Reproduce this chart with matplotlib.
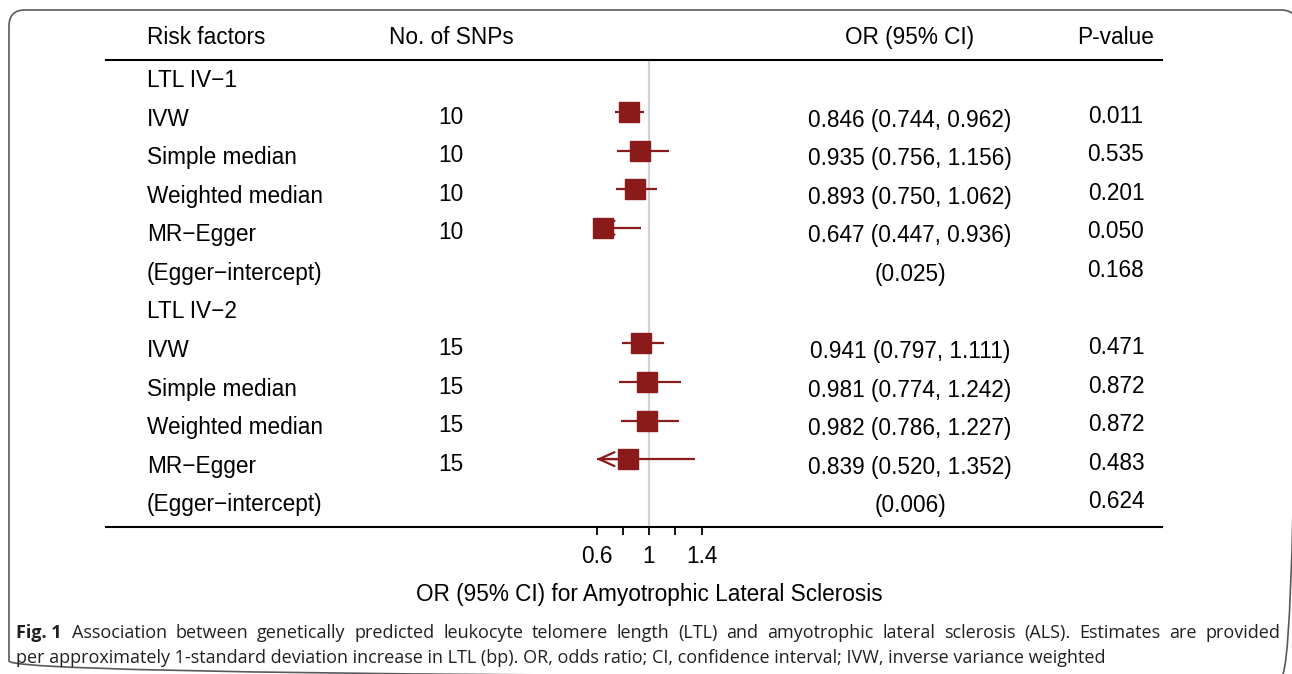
import numpy as np
import matplotlib.pyplot as plt
from matplotlib import transforms
from matplotlib.patches import FancyBboxPatch

plt.rcParams['font.family'] = ['Liberation Sans', 'DejaVu Sans']

# table data
labels = ["LTL IV\u22121", "IVW", "Simple median", "Weighted median", "MR\u2212Egger",
          "(Egger\u2212intercept)", "LTL IV\u22122", "IVW", "Simple median",
          "Weighted median", "MR\u2212Egger", "(Egger\u2212intercept)"]
snps = ["", "10", "10", "10", "10", "", "", "15", "15", "15", "15", ""]
est = [np.nan, 0.846, 0.935, 0.893, 0.647, np.nan, np.nan, 0.941, 0.981, 0.982, 0.839, np.nan]
lo = [np.nan, 0.744, 0.756, 0.750, 0.447, np.nan, np.nan, 0.797, 0.774, 0.786, 0.520, np.nan]
hi = [np.nan, 0.962, 1.156, 1.062, 0.936, np.nan, np.nan, 1.111, 1.242, 1.227, 1.352, np.nan]
intercept = {5: "(0.025)", 11: "(0.006)"}
pvals = ["", "0.011", "0.535", "0.201", "0.050", "0.168", "", "0.471", "0.872", "0.872", "0.483", "0.624"]
headers = ["Risk factors", "No. of SNPs", "OR (95% CI)", "P-value"]
xticks = [0.6, 0.8, 1.0, 1.2, 1.4]
xticklabels = ["0.6", "", "1", "", "1.4"]

red = "#8b1a1a"
W, H = 1292, 674
fig = plt.figure(figsize=(W / 100, H / 100), dpi=100)

# background: frame + caption, in pixel units
bg = fig.add_axes([0, 0, 1, 1])
bg.set_xlim(0, W)
bg.set_ylim(H, 0)
bg.axis('off')
bg.add_patch(FancyBboxPatch((9, 10), 1288, 667, boxstyle='round,pad=0,rounding_size=16',
                            fill=False, ec='#58595b', lw=1.2))

# forest / table axes
fa = fig.add_axes([106 / W, (H - 527) / H, 1056 / W, (527 - 60) / H])
fa.set_facecolor('none')
px = 131.25  # pixels per OR unit
fa.set_xlim(1 - (649 - 106) / px, 1 + (1162 - 649) / px)
fa.set_ylim(11.76, -0.35)
for s in ['left', 'right']:
    fa.spines[s].set_visible(False)
for s in ['top', 'bottom']:
    fa.spines[s].set_linewidth(1.5)
fa.set_yticks([])
fa.set_xticks(xticks)
fa.set_xticklabels(xticklabels)
fa.tick_params(axis='x', direction='out', length=6, width=1.3, labelsize=16.3, pad=7)

fa.axvline(1, color='#d3d3d3', lw=1.6, zorder=1)

xmin = 0.6
for i in range(len(labels)):
    e = est[i]
    if np.isnan(e):
        continue
    l = max(lo[i], xmin)
    fa.plot([l, hi[i]], [i, i], color=red, lw=1.6, zorder=2, solid_capstyle='butt')
    if lo[i] < xmin:
        fa.annotate('', xy=(xmin, i), xytext=(e, i),
                    arrowprops=dict(arrowstyle='->,head_length=1.1,head_width=0.5',
                                    color=red, lw=1.6, shrinkA=0, shrinkB=0), zorder=2)
    fa.plot(e, i, marker='s', ms=13.8, color=red, mec=red, zorder=3)

tr = transforms.blended_transform_factory(fa.transAxes, fa.transData)
col_x = [(147 - 106) / 1056, (451 - 106) / 1056, (910 - 106) / 1056, (1116 - 106) / 1056]
fs = 16.3
rowpx = 38.56

hy = (38 - 73.5) / rowpx
fa.text(col_x[0], hy, headers[0], transform=tr, ha='left', va='center', fontsize=fs)
for k in range(1, 4):
    fa.text(col_x[k], hy, headers[k], transform=tr, ha='center', va='center', fontsize=fs)

for i, lab in enumerate(labels):
    fa.text(col_x[0], i + 7 / rowpx, lab, transform=tr, ha='left', va='center', fontsize=fs)
    if snps[i]:
        fa.text(col_x[1], i + 5 / rowpx, snps[i], transform=tr, ha='center', va='center', fontsize=fs)
    if not np.isnan(est[i]):
        ortxt = f"{est[i]:.3f} ({lo[i]:.3f}, {hi[i]:.3f})"
    else:
        ortxt = intercept.get(i, "")
    if ortxt:
        fa.text(col_x[2], i + 8 / rowpx, ortxt, transform=tr, ha='center', va='center', fontsize=fs)
    if pvals[i]:
        fa.text(col_x[3], i + 4 / rowpx, pvals[i], transform=tr, ha='center', va='center', fontsize=fs)

fa.text(1, (594 - 73.5) / rowpx, "OR (95% CI) for Amyotrophic Lateral Sclerosis",
        ha='center', va='center', fontsize=fs)

# caption (first line justified to the right margin)
cap_font = ['Open Sans', 'DejaVu Sans']
cap_col = '#231f20'
cfs = 13.0
line1 = ("Association between genetically predicted leukocyte telomere length (LTL) and "
         "amyotrophic lateral sclerosis (ALS). Estimates are provided")
line2 = ("per approximately 1-standard deviation increase in LTL (bp). OR, odds ratio; "
         "CI, confidence interval; IVW, inverse variance weighted")

rend = fig.canvas.get_renderer()
t1 = bg.text(16, 638, "Fig. 1", family=cap_font, fontweight='bold', fontsize=cfs,
             color=cap_col, va='baseline', ha='left')
x0 = 16 + t1.get_window_extent(rend).width + 10
words = [bg.text(0, 638, w, family=cap_font, fontsize=cfs, color=cap_col,
                 va='baseline', ha='left') for w in line1.split(' ')]
widths = [w.get_window_extent(rend).width for w in words]
gap = (1280 - x0 - sum(widths)) / (len(words) - 1)
x = x0
for w, wd in zip(words, widths):
    w.set_x(x)
    x += wd + gap
bg.text(16, 663, line2, family=cap_font, fontsize=cfs, color=cap_col, va='baseline', ha='left')

fig.savefig("out.png", dpi=100)
